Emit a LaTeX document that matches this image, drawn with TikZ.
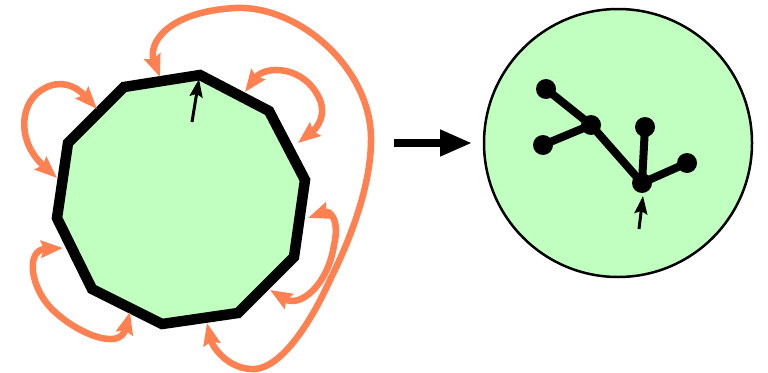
\documentclass[tikz,border=0pt]{standalone}
\usetikzlibrary{arrows.meta}
\definecolor{polyfill}{RGB}{192,255,192}
\definecolor{loopcol}{RGB}{255,128,80}
\tikzset{
  loopar/.style={draw=loopcol, line width=6.5pt, line cap=round,
    {Stealth[length=22pt,width=17pt,inset=3pt]}-{Stealth[length=22pt,width=17pt,inset=3pt]}},
  smallar/.style={draw=black, line width=3pt, -{Stealth[length=18pt,width=13pt,inset=3pt]}},
  bigar/.style={draw=black, line width=7.5pt, -{Triangle[length=32pt,width=25pt]}},
  treedot/.style={circle, fill=black, inner sep=0pt, minimum size=20pt},
  treeedge/.style={draw=black, line width=8pt}
}
\begin{document}
\begin{tikzpicture}[x=1pt,y=-1pt]
\useasboundingbox (0,0) rectangle (768,372);
% polygon
\coordinate (v1) at (200,75);
\coordinate (v2) at (269,111);
\coordinate (v3) at (305,180);
\coordinate (v4) at (294,257);
\coordinate (v5) at (238,313);
\coordinate (v6) at (162,324);
\coordinate (v7) at (92,289);
\coordinate (v8) at (57,218);
\coordinate (v9) at (68,143);
\coordinate (v10) at (124,87);
\draw[fill=polyfill, line width=10.5pt, line join=miter] (v1) -- (v2) -- (v3) -- (v4) -- (v5) -- (v6) -- (v7) -- (v8) -- (v9) -- (v10) -- cycle;
% small arrow in polygon
\coordinate (pa) at (192,122);
\coordinate (pb) at (199,79);
\draw[smallar] (pa) -- (pb);
% loop arrows
\coordinate (a1s) at (97,109);
\coordinate (a1e) at (57,178);
\draw[loopar] (a1s) .. controls (75,85) and (60,80) .. (45,88) .. controls (20,100) and (15,140) .. (a1e);
\coordinate (a2s) at (160,77);
\coordinate (a2e) at (207,323);
\draw[loopar] (a2s) .. controls (148,45) and (165,12) .. (235,8)
  .. controls (300,5) and (372,70) .. (371,140)
  .. controls (371,180) and (355,230) .. (330,280)
  .. controls (305,335) and (275,372) .. (250,369)
  .. controls (225,367) and (212,345) .. (a2e);
\coordinate (a3s) at (245,92);
\coordinate (a3e) at (298,143);
\draw[loopar] (a3s) .. controls (265,65) and (305,65) .. (320,100) .. controls (326,115) and (318,127) .. (a3e);
\coordinate (a4s) at (308,218);
\coordinate (a4e) at (270,290);
\draw[loopar] (a4s) .. controls (330,210) and (340,220) .. (334,245) .. controls (328,285) and (300,308) .. (a4e);
\coordinate (a5s) at (63,248);
\coordinate (a5e) at (130,312);
\draw[loopar] (a5s) .. controls (25,250) and (30,290) .. (55,312) .. controls (80,335) and (120,350) .. (a5e);
% big arrow
\coordinate (ba) at (394,143);
\coordinate (bb) at (472,143);
\draw[bigar] (ba) -- (bb);
% circle
\node[circle, draw=black, line width=2.5pt, fill=polyfill, minimum size=268pt, inner sep=0pt] (circ) at (618,143) {};
% tree
\node[treedot] (t1) at (546,89) {};
\node[treedot] (t2) at (591,125) {};
\node[treedot] (t3) at (543,145) {};
\node[treedot] (t4) at (645,127) {};
\node[treedot] (t5) at (687,163) {};
\node[treedot] (t6) at (642,183) {};
\draw[treeedge] (t1.center) -- (t2.center);
\draw[treeedge] (t3.center) -- (t2.center);
\draw[treeedge] (t2.center) -- (t6.center);
\draw[treeedge] (t4.center) -- (t6.center);
\draw[treeedge] (t5.center) -- (t6.center);
\coordinate (ra) at (639,229);
\coordinate (rb) at (643,196);
\draw[smallar] (ra) -- (rb);
\end{tikzpicture}
\end{document}
